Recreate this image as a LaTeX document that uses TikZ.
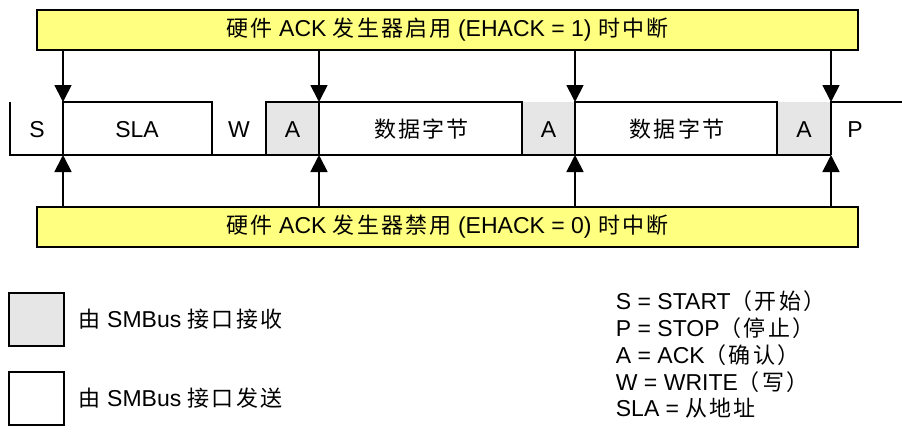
\documentclass[tikz,border=0pt]{standalone}
\usepackage{fontspec}
\setmainfont{Liberation Sans}
\newfontfamily\cjkfont[LetterSpace=10]{Noto Sans CJK SC}
\newcommand\zh[1]{{\cjkfont\fontsize{22}{27}\selectfont #1}}
\usetikzlibrary{arrows.meta}
\definecolor{ackyellow}{RGB}{255,255,128}
\definecolor{rxgray}{RGB}{230,230,230}
\begin{document}
\begin{tikzpicture}[x=1pt,y=-1pt,line width=1.8pt,
  every node/.style={font=\fontsize{23}{27}\selectfont, inner sep=0pt},
  banner/.style={draw, fill=ackyellow, minimum width=821pt, minimum height=40pt},
  arr/.style={-{Triangle[width=17pt,length=17pt]}},
  lbl/.style={anchor=base},
  legbox/.style={draw, minimum width=55pt, minimum height=53pt},
  legtxt/.style={anchor=west},
  keytxt/.style={anchor=base west}]
\useasboundingbox (0,0) rectangle (902,432);

% banners
\node[banner] (topbox) at (447.5,30) {\zh{硬件} ACK \zh{发生器启用} (EHACK = 1) \zh{时中断}};
\node[banner] (botbox) at (447.5,227) {\zh{硬件} ACK \zh{发生器禁用} (EHACK = 0) \zh{时中断}};

% frame coordinates
\coordinate (t1) at (63,102);  \coordinate (b1) at (63,155);
\coordinate (t2) at (319,102); \coordinate (b2) at (319,155);
\coordinate (t3) at (575,102); \coordinate (b3) at (575,155);
\coordinate (t4) at (831,102); \coordinate (b4) at (831,155);

% received (grey) fields
\fill[rxgray] (266,102) rectangle (319,155);
\fill[rxgray] (522,102) rectangle (575,155);
\fill[rxgray] (777,102) rectangle (831,155);

% waveform frame
\draw (10,102) -- (10,155) -- (b4);
\draw (b1) -- (t1) -- (212,102) -- (212,155);
\draw (266,155) -- (266,102) -- (t2) -- (522,102) -- (522,155);
\draw (b2) -- (t2);
\draw (b3) -- (t3) -- (777,102) -- (777,155);
\draw (b4) -- (t4) -- (902,102);

% field labels
\node[lbl] (fS)   at (37,137)  {S};
\node[lbl] (fSLA) at (137,137) {SLA};
\node[lbl] (fW)   at (239,137) {W};
\node[lbl] (fA1)  at (292.5,137) {A};
\node[lbl] (fD1)  at (421.5,137) {\zh{数据字节}};
\node[lbl] (fA2)  at (548.5,137) {A};
\node[lbl] (fD2)  at (677,137) {\zh{数据字节}};
\node[lbl] (fA3)  at (804,137) {A};
\node[lbl] (fP)   at (855,137) {P};

% arrows
\foreach \i in {1,2,3,4} {
  \draw[arr] (topbox.south -| t\i) -- (t\i);
  \draw[arr] (botbox.north -| b\i) -- (b\i);
}

% legend
\node[legbox, fill=rxgray] (rxbox) at (36.5,319.5) {};
\node[legbox, fill=white]  (txbox) at (36.5,398.5) {};
\node[legtxt] (rxtxt) at ([xshift=13pt]rxbox.east) {\zh{由} SMBus \zh{接口接收}};
\node[legtxt] (txtxt) at ([xshift=13pt]txbox.east) {\zh{由} SMBus \zh{接口发送}};

\node[keytxt] (k1) at (615,309) {S = START\zh{（开始）}};
\node[keytxt] (k2) at (615,336) {P = STOP\zh{（停止）}};
\node[keytxt] (k3) at (615,363) {A = ACK\zh{（确认）}};
\node[keytxt] (k4) at (615,390) {W = WRITE\zh{（写）}};
\node[keytxt] (k5) at (615,416) {SLA = \zh{从地址}};
\end{tikzpicture}
\end{document}
